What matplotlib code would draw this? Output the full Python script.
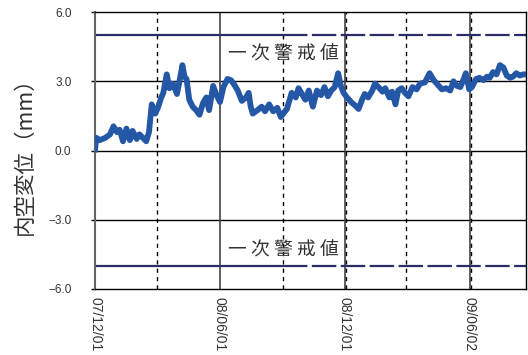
import numpy as np
import matplotlib
matplotlib.use("Agg")
import matplotlib.pyplot as plt

plt.rcParams['font.family'] = ['Noto Sans CJK JP', 'DejaVu Sans']

# measurement record: days since 2007-12-01 and displacement (mm)
start = np.datetime64('2007-12-01')
days = [0, 2, 7, 15, 22, 27, 32, 36, 41, 46, 51, 55, 61, 65, 70, 75, 79, 83,
        88, 92, 97, 100, 105, 109, 114, 120, 123, 128, 131, 134, 138, 143,
        148, 153, 158, 163, 167, 173, 178, 183, 188, 194, 199, 204, 209, 215,
        221, 225, 228, 231, 238, 244, 249, 255, 261, 267, 272, 277, 281, 288,
        294, 298, 303, 308, 313, 319, 325, 331, 336, 341, 346, 351, 356, 360,
        364, 369, 375, 381, 386, 391, 395, 400, 406, 410, 415, 421, 425, 431,
        435, 440, 444, 449, 454, 459, 465, 471, 476, 483, 490, 496, 502, 508,
        514, 520, 525, 530, 535, 540, 543, 548, 552, 558, 563, 569, 574, 578,
        583, 588, 593, 598, 603, 608, 612, 617, 622, 627, 631]
disp = [0.05, 0.55, 0.45, 0.55, 0.7, 1.05, 0.8, 0.9, 0.4, 0.95, 0.45, 0.85,
        0.5, 0.7, 0.55, 0.4, 0.8, 2.0, 1.6, 1.85, 2.3, 2.5, 3.3, 2.7, 2.9,
        2.45, 2.9, 3.7, 3.2, 3.1, 2.2, 1.9, 1.75, 1.55, 2.05, 2.3, 1.75, 2.8,
        2.4, 2.1, 2.75, 3.1, 3.05, 2.85, 2.6, 2.15, 2.3, 2.5, 1.9, 1.6, 1.75,
        1.9, 1.7, 2.0, 1.7, 1.85, 1.45, 1.65, 1.8, 2.5, 2.3, 2.7, 2.45, 2.2,
        2.6, 1.9, 2.6, 2.4, 2.75, 2.35, 2.6, 2.75, 3.35, 2.8, 2.5, 2.3, 2.1,
        1.95, 1.8, 2.2, 2.45, 2.3, 2.6, 2.9, 2.75, 2.55, 2.7, 2.3, 2.55, 2.0,
        2.6, 2.7, 2.5, 2.35, 2.75, 2.65, 2.9, 2.95, 3.35, 3.05, 2.85, 2.65,
        2.7, 2.6, 3.0, 2.8, 2.75, 3.1, 3.35, 2.65, 2.75, 3.1, 3.15, 3.05, 3.2,
        3.15, 3.4, 3.3, 3.7, 3.6, 3.25, 3.15, 3.2, 3.35, 3.25, 3.3, 3.3]

alert_level = 5.0
alert_label = "一 次 警 戒 値"
x_ticks = ['2007-12-01', '2008-06-01', '2008-12-01', '2009-06-02']
x_minor = ['2008-03-01', '2008-09-01', '2008-12-02', '2009-03-01', '2009-06-03']
y_ticks = [6.0, 3.0, 0.0, -3.0, -6.0]

dates = start + np.array(days).astype('timedelta64[D]')
x0 = start
x1 = start + np.timedelta64(631, 'D')

fig = plt.figure(figsize=(5.28, 3.55), dpi=100)
ax = fig.add_axes([0.180, 0.186, 0.816, 0.780])

# grid
for y in y_ticks[1:-1]:
    ax.axhline(y, color='black', lw=1.0, zorder=1)
for d in x_ticks[1:]:
    ax.axvline(np.datetime64(d), color='#444444', lw=1.2, zorder=1)
for d in x_minor:
    ax.axvline(np.datetime64(d), color='black', lw=1.0, ls=(0, (3, 3)), zorder=1)

# alert lines (+/-)
split = np.datetime64('2008-09-02')
for s, ty in ((1, 4.2), (-1, -4.3)):
    ax.plot([x0, split], [s * alert_level] * 2, color='#2b2d6b', lw=1.6, zorder=2,
            solid_capstyle='butt')
    ax.plot([split, x1], [s * alert_level] * 2, color='#2b2d6b', lw=1.6, zorder=2,
            ls=(0, (11, 2)))
    ax.text(np.datetime64('2008-09-02'), ty, alert_label, ha='center',
            va='center', fontsize=13.5, color='#333333', zorder=3)

ax.plot(dates, disp, color='#2557a7', lw=4.2, zorder=4)

ax.set_xlim(x0, x1)
ax.set_ylim(-6, 6)
ax.set_yticks(y_ticks)
ax.set_yticklabels([f"{v:.1f}".replace('-', '\u2212') for v in y_ticks],
                   family='Liberation Sans', fontsize=8.5, color='#333333')
ax.set_xticks([np.datetime64(d) for d in x_ticks])
ax.set_xticklabels([d[2:].replace('-', '/') for d in x_ticks], rotation=-90,
                   family='Liberation Sans', fontsize=10, color='#333333')
ax.tick_params(axis='y', length=3, width=1, pad=14, direction='out')
ax.tick_params(axis='x', length=0, pad=6)
ax.set_ylabel("内空変位（mm）", fontsize=15.5, color='#333333', labelpad=9)

for side in ('top', 'right', 'bottom'):
    ax.spines[side].set_color('black')
    ax.spines[side].set_linewidth(1.0)
ax.spines['left'].set_color('#666666')
ax.spines['left'].set_linewidth(1.5)

fig.savefig("out.png", dpi=100)
